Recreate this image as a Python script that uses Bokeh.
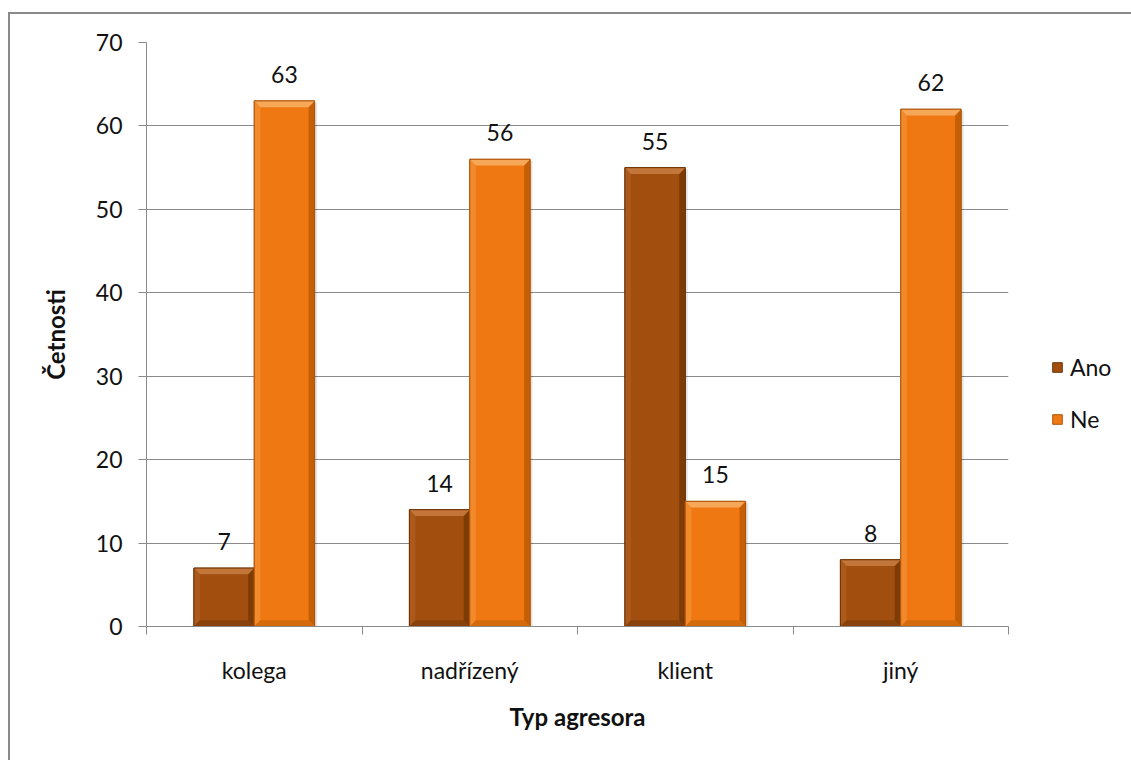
from bokeh.plotting import figure
from bokeh.models import (ColumnDataSource, FixedTicker, Legend, LegendItem,
                          Range1d)
from bokeh.core.properties import value
from bokeh.embed import file_html
from bokeh.resources import INLINE

# Frequencies of reported aggression by type of aggressor
categories = ["kolega", "nadřízený", "klient", "jiný"]
ano = [7, 14, 55, 8]
ne = [63, 56, 15, 62]
series_names = ["Ano", "Ne"]
y_ticks = [0, 10, 20, 30, 40, 50, 60, 70]

FONT = "Lato"
FS = "23px"
BAR_W = 0.28
OFFSET = 0.14
BEVEL_X = 0.028
BEVEL_Y = 0.75

# face, top, left, right, bottom, outline
palettes = {
    "Ano": ("#a14e0e", "#c2763a", "#ab5a1c", "#7c3b07", "#88420a", "#6e3406"),
    "Ne": ("#f07812", "#f7a758", "#f28a2c", "#c45f08", "#d36b0c", "#b0560a"),
}

p = figure(
    frame_width=862, frame_height=584,
    x_range=Range1d(0, len(categories)), y_range=Range1d(0, 70),
    output_backend="svg", toolbar_location=None,
    min_border_left=136, min_border_top=28, min_border_right=123,
    min_border_bottom=150,
    background_fill_color="white", border_fill_color="white",
)
p.margin = (12, 0, 0, 8)
p.styles = {"border-left": "2px solid #8a8a8a", "border-top": "2px solid #8a8a8a"}
p.outline_line_color = None

# axes
p.yaxis.ticker = FixedTicker(ticks=y_ticks)
p.yaxis.axis_line_color = "#8a8a8a"
p.yaxis.major_tick_line_color = "#8a8a8a"
p.yaxis.major_tick_out = 8
p.yaxis.major_tick_in = 0
p.yaxis.minor_tick_line_color = None
p.yaxis.major_label_standoff = 16
p.yaxis.major_label_text_font = FONT
p.yaxis.major_label_text_font_size = FS
p.yaxis.major_label_text_color = "#111111"
p.yaxis.axis_label = "Četnosti"
p.yaxis.axis_label_text_font = FONT
p.yaxis.axis_label_text_font_style = "bold"
p.yaxis.axis_label_text_font_size = "24px"
p.yaxis.axis_label_text_color = "#111111"
p.yaxis.axis_label_standoff = 23

centers = [i + 0.5 for i in range(len(categories))]
p.xaxis.ticker = FixedTicker(ticks=centers,
                             minor_ticks=list(range(len(categories) + 1)))
p.xaxis.major_label_overrides = {c: name for c, name in zip(centers, categories)}
p.xaxis.axis_line_color = "#8a8a8a"
p.xaxis.major_tick_line_color = None
p.xaxis.major_tick_out = 0
p.xaxis.minor_tick_line_color = "#8a8a8a"
p.xaxis.minor_tick_out = 8
p.xaxis.minor_tick_in = 0
p.xaxis.major_label_standoff = 21
p.xaxis.major_label_text_font = FONT
p.xaxis.major_label_text_font_size = FS
p.xaxis.major_label_text_color = "#111111"
p.xaxis.axis_label = "Typ agresora"
p.xaxis.axis_label_text_font = FONT
p.xaxis.axis_label_text_font_style = "bold"
p.xaxis.axis_label_text_font_size = "24px"
p.xaxis.axis_label_text_color = "#111111"
p.xaxis.axis_label_standoff = 15

p.xgrid.grid_line_color = None
p.ygrid.ticker = FixedTicker(ticks=y_ticks)
p.ygrid.grid_line_color = "#8a8a8a"
p.ygrid.grid_line_width = 1

legend_items = []
for name, vals, off in (("Ano", ano, -OFFSET), ("Ne", ne, OFFSET)):
    face, top_c, left_c, right_c, bottom_c, edge = palettes[name]
    xs = [c + off for c in centers]
    src = ColumnDataSource(dict(x=xs, top=vals, label=[str(v) for v in vals]))

    # soft drop shadow
    p.vbar(x=[x + 0.012 for x in xs], top=[v - 0.2 for v in vals], width=BAR_W,
           fill_color="#000000", fill_alpha=0.10, line_color=None)
    face_r = p.vbar(x="x", top="top", width=BAR_W, source=src,
                    fill_color=face, line_color=edge, line_width=1)

    # bevel edges
    tops, bottoms, lefts, rights = [], [], [], []
    for x, v in zip(xs, vals):
        l, r = x - BAR_W / 2, x + BAR_W / 2
        tops.append(([l, r, r - BEVEL_X, l + BEVEL_X], [v, v, v - BEVEL_Y, v - BEVEL_Y]))
        bottoms.append(([l, r, r - BEVEL_X, l + BEVEL_X], [0, 0, BEVEL_Y, BEVEL_Y]))
        lefts.append(([l, l + BEVEL_X, l + BEVEL_X, l], [0, BEVEL_Y, v - BEVEL_Y, v]))
        rights.append(([r, r - BEVEL_X, r - BEVEL_X, r], [0, BEVEL_Y, v - BEVEL_Y, v]))
    for shapes, col in ((lefts, left_c), (rights, right_c),
                        (bottoms, bottom_c), (tops, top_c)):
        p.patches(xs=[s[0] for s in shapes], ys=[s[1] for s in shapes],
                  fill_color=col, line_color=None)
    p.vbar(x="x", top="top", width=BAR_W, source=src,
           fill_color=None, line_color=edge, line_width=1)

    p.text(x="x", y="top", text="label", source=src,
           text_align="center", text_baseline="bottom", y_offset=-18,
           text_font=value(FONT), text_font_size=FS, text_color="#111111")
    legend_items.append(LegendItem(label=name, renderers=[face_r]))

legend = Legend(items=legend_items, location=(43, 193),
                glyph_width=12, glyph_height=12, label_height=20,
                spacing=24, padding=0, margin=0, border_line_color=None,
                background_fill_alpha=0, label_text_font=FONT,
                label_text_font_size=FS, label_text_color="#111111",
                label_standoff=7)
p.add_layout(legend, "right")

open("out.html", "w").write(file_html(p, INLINE))
